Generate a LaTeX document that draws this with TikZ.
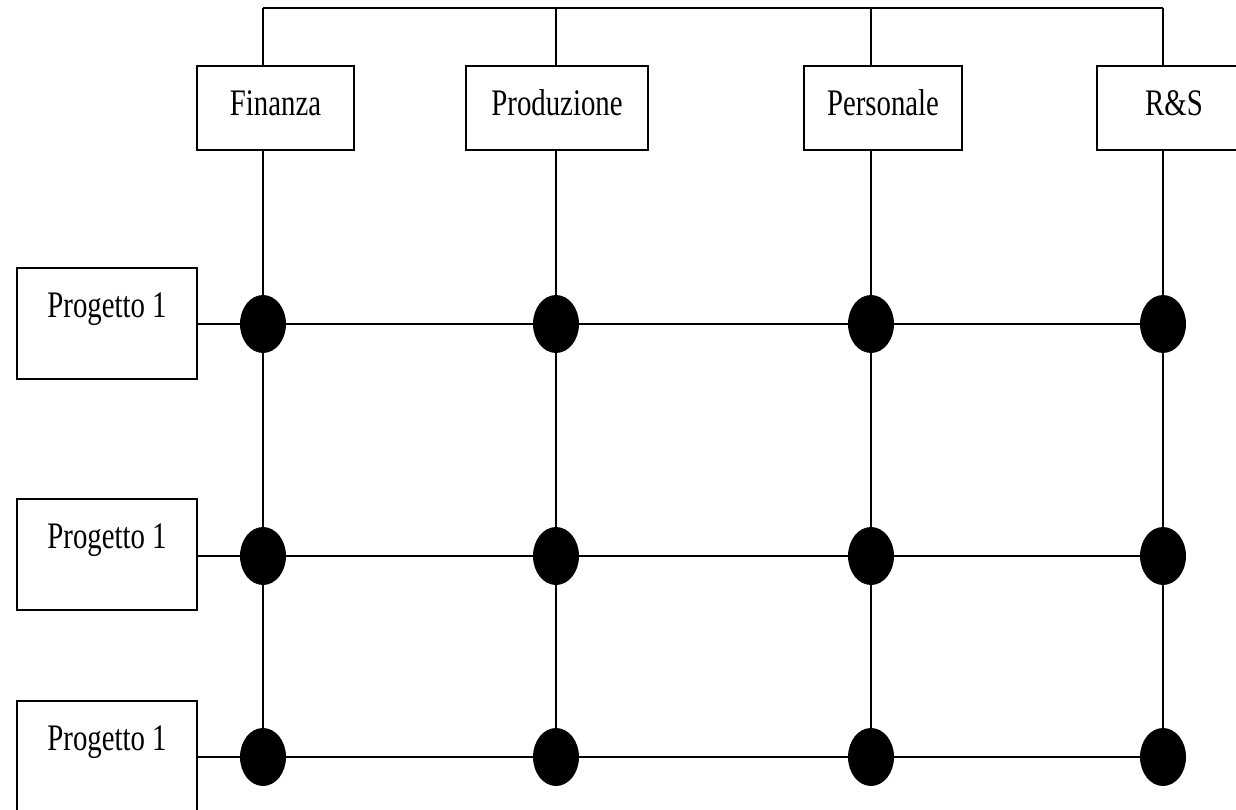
\documentclass[tikz,border=0pt]{standalone}
\usepackage{fontspec}
\setmainfont{Liberation Serif}
\usetikzlibrary{positioning,shapes.geometric}
\tikzstyle{line} = [draw,line width=2pt]
\newcommand{\alto}[1]{\scalebox{1}[1.3]{#1}}

\begin{document}
\begin{tikzpicture}[x=1pt,y=-1pt]
  \tikzstyle{ufficio} = [draw,line width=2pt,inner sep=0pt,anchor=north west,minimum height=84pt,text height=50pt,text depth=34pt,font=\fontsize{28.8}{30}\selectfont]
  \tikzstyle{progetto} = [ufficio,minimum width=180pt,minimum height=111pt,text height=49pt,text depth=62pt]
  \tikzstyle{nodo} = [ellipse,fill=black,inner sep=0pt,minimum width=46pt,minimum height=58pt]
  \useasboundingbox (0,0) rectangle (1236,810);
  \clip (0,0) rectangle (1236,810);
  % uffici
  \node[ufficio,minimum width=157pt] (fin) at (196,65) {\alto{Finanza}};
  \node[ufficio,minimum width=182pt] (prod) at (465,65) {\alto{Produzione}};
  \node[ufficio,minimum width=158pt] (pers) at (803,65) {\alto{Personale}};
  \node[ufficio,minimum width=154pt] (rs) at (1096,65) {\alto{R\&S}};
  % progetti
  \node[progetto] (prog1) at (16,267) {\alto{Progetto 1}};
  \node[progetto] (prog2) at (16,498) {\alto{Progetto 1}};
  \node[progetto] (prog3) at (16,700) {\alto{Progetto 1}};
  % incroci
  \foreach \x/\c in {263/1,556/2,871/3,1163/4}
    \foreach \y/\r in {324/1,556/2,757/3}
      \node[nodo] (d\r\c) at (\x,\y) {};
  \coordinate (t1) at (263,8);
  \coordinate (t2) at (556,8);
  \coordinate (t3) at (871,8);
  \coordinate (t4) at (1163,8);
  \path[line] (t1) -- (t4);
  % colonne
  \path[line] (t1) -- (t1 |- fin.north);
  \path[line] (t2) -- (t2 |- prod.north);
  \path[line] (t3) -- (t3 |- pers.north);
  \path[line] (t4) -- (t4 |- rs.north);
  \path[line] (t1 |- fin.south) -- (d11) -- (d21) -- (d31);
  \path[line] (t2 |- prod.south) -- (d12) -- (d22) -- (d32);
  \path[line] (t3 |- pers.south) -- (d13) -- (d23) -- (d33);
  \path[line] (t4 |- rs.south) -- (d14) -- (d24) -- (d34);
  % righe
  \path[line] (prog1.east |- d11) -- (d11) -- (d12) -- (d13) -- (d14);
  \path[line] (prog2.east |- d21) -- (d21) -- (d22) -- (d23) -- (d24);
  \path[line] (prog3.east |- d31) -- (d31) -- (d32) -- (d33) -- (d34);
\end{tikzpicture}
\end{document}
